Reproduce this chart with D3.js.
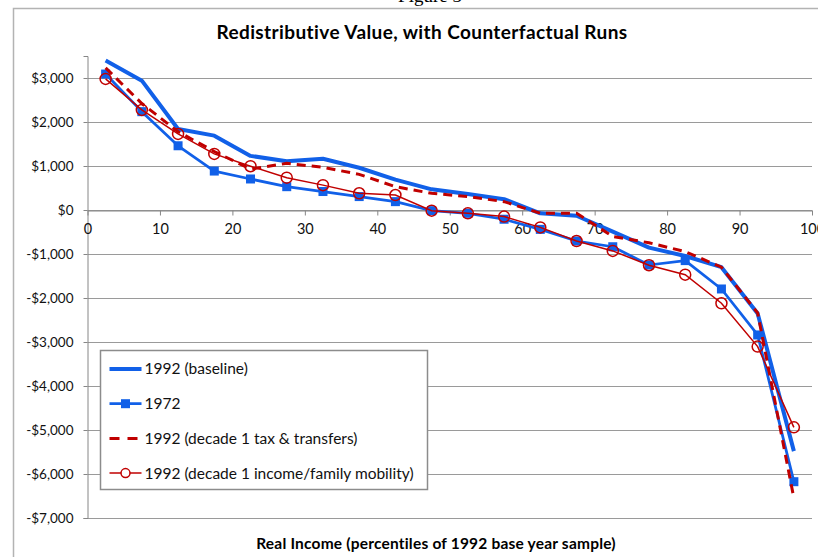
<!DOCTYPE html>
<html>
<head>
<meta charset="utf-8">
<script src="https://cdn.jsdelivr.net/npm/d3@7"></script>
<style>
  html, body { margin: 0; padding: 0; background: #fff; overflow: hidden; }
  svg { display: block; font-family: Lato, "Open Sans", sans-serif; }
</style>
</head>
<body>
<svg id="chart" width="818" height="557"></svg>
<script>
// percentile midpoints
const percentiles = [2.5, 7.5, 12.5, 17.5, 22.5, 27.5, 32.5, 37.5, 42.5, 47.5,
                     52.5, 57.5, 62.5, 67.5, 72.5, 77.5, 82.5, 87.5, 92.5, 97.5];

const baseline1992 = [3400, 2940, 1840, 1690, 1230, 1110, 1165, 960, 690, 470,
                      365, 245, -75, -130, -490, -855, -1045, -1300, -2350, -5480];
const run1972 = [3090, 2235, 1460, 885, 705, 530, 420, 305, 190, -15,
                 -75, -210, -440, -705, -835, -1250, -1150, -1795, -2840, -6175];
const taxTransfers = [3230, 2420, 1780, 1330, 930, 1060, 970, 810, 530, 380,
                      305, 190, -75, -75, -600, -745, -945, -1300, -2340, -6550];
const incomeMobility = [2980, 2275, 1730, 1275, 995, 735, 565, 380, 340, -15,
                        -75, -150, -395, -705, -930, -1255, -1470, -2120, -3105, -4940];

const yTicks = [3000, 2000, 1000, 0, -1000, -2000, -3000, -4000, -5000, -6000, -7000];
const xTicks = [0, 10, 20, 30, 40, 50, 60, 70, 80, 90, 100];

const legendLabels = ["1992 (baseline)", "1972", "1992 (decade 1 tax & transfers)",
                      "1992 (decade 1 income/family mobility)"];

const BLUE = "#1160e8", RED = "#c00000", GRID = "#9a9a9a";

const svg = d3.select("#chart");

// caption above the chart frame (mostly cut off)
svg.append("text")
  .attr("x", 430).attr("y", 2)
  .attr("text-anchor", "middle")
  .attr("font-family", "'Liberation Serif', serif")
  .attr("font-size", 19)
  .text("Figure 3");

// outer chart frame
svg.append("rect")
  .attr("x", 13.5).attr("y", 8.5)
  .attr("width", 830).attr("height", 570)
  .attr("fill", "#fff")
  .attr("stroke", "#b3b3b3").attr("stroke-width", 1.5);

const x = d3.scaleLinear().domain([0, 100]).range([87.5, 812]);
const y = d3.scaleLinear().domain([-7000, 3500]).range([518, 56]);

// gridlines
svg.append("g")
  .selectAll("line")
  .data(yTicks)
  .join("line")
  .attr("x1", x(0)).attr("x2", x(100))
  .attr("y1", d => Math.round(y(d)) + 0.5).attr("y2", d => Math.round(y(d)) + 0.5)
  .attr("stroke", GRID).attr("stroke-width", 1);

// y axis
const fmt = d => (d < 0 ? "-$" : "$") + d3.format(",")(Math.abs(d));
const yAxis = svg.append("g")
  .attr("transform", `translate(${x(0)},0)`)
  .call(d3.axisLeft(y).tickValues(yTicks).tickFormat(fmt).tickSize(4).tickPadding(10));
yAxis.select(".domain").attr("stroke", "#868686");
yAxis.selectAll(".tick line").attr("stroke", "#868686");
yAxis.selectAll("text").attr("font-size", 13.5).attr("fill", "#111")
  .attr("font-family", "Lato, sans-serif");

// x axis on the zero line
const xAxis = svg.append("g")
  .attr("transform", `translate(0,${Math.round(y(0)) + 0.5})`)
  .call(d3.axisBottom(x).tickValues(xTicks).tickSize(5).tickPadding(8).tickSizeOuter(0));
xAxis.select(".domain").attr("stroke", "#868686");
xAxis.selectAll(".tick line").attr("stroke", "#868686");
xAxis.selectAll("text").attr("font-size", 14.5).attr("fill", "#111")
  .attr("font-family", "Lato, sans-serif");

const line = d3.line().x((d, i) => x(percentiles[i])).y(d => y(d));

// series, in Excel drawing order
svg.append("path").datum(baseline1992)
  .attr("d", line).attr("fill", "none")
  .attr("stroke", BLUE).attr("stroke-width", 4).attr("stroke-linejoin", "round");

svg.append("path").datum(run1972)
  .attr("d", line).attr("fill", "none")
  .attr("stroke", BLUE).attr("stroke-width", 2.75).attr("stroke-linejoin", "round");
svg.append("g").selectAll("rect")
  .data(run1972)
  .join("rect")
  .attr("x", (d, i) => x(percentiles[i]) - 4.5)
  .attr("y", d => y(d) - 4.5)
  .attr("width", 9).attr("height", 9)
  .attr("fill", BLUE);

svg.append("path").datum(taxTransfers)
  .attr("d", line).attr("fill", "none")
  .attr("stroke", RED).attr("stroke-width", 3)
  .attr("stroke-dasharray", "9,6");

svg.append("path").datum(incomeMobility)
  .attr("d", line).attr("fill", "none")
  .attr("stroke", RED).attr("stroke-width", 1.5);
svg.append("g").selectAll("circle")
  .data(incomeMobility)
  .join("circle")
  .attr("cx", (d, i) => x(percentiles[i]))
  .attr("cy", d => y(d))
  .attr("r", 5.5)
  .attr("fill", "none")
  .attr("stroke", RED).attr("stroke-width", 1.5);

// title and axis title
svg.append("text")
  .attr("x", 422).attr("y", 38.5)
  .attr("text-anchor", "middle")
  .attr("font-size", 19).attr("font-weight", 700)
  .attr("letter-spacing", 0.4)
  .text("Redistributive Value, with Counterfactual Runs");

svg.append("text")
  .attr("x", 436).attr("y", 548.5)
  .attr("text-anchor", "middle")
  .attr("font-size", 15.5).attr("font-weight", 700)
  .attr("letter-spacing", 0.2)
  .text("Real Income (percentiles of 1992 base year sample)");

// legend
const legend = svg.append("g").attr("transform", "translate(100.5,350.5)");
legend.append("rect")
  .attr("width", 327).attr("height", 139)
  .attr("fill", "#fff")
  .attr("stroke", "#8c8c8c").attr("stroke-width", 1.5);

const legendRows = [
  { stroke: BLUE, width: 4, dash: null, marker: null },
  { stroke: BLUE, width: 2.75, dash: null, marker: "square" },
  { stroke: RED, width: 3, dash: "10,8", marker: null },
  { stroke: RED, width: 1.5, dash: null, marker: "circle" }
];

legendRows.forEach((r, i) => {
  const row = legend.append("g").attr("transform", `translate(0,${18.5 + i * 34.7})`);
  row.append("line")
    .attr("x1", 9).attr("x2", 41)
    .attr("stroke", r.stroke).attr("stroke-width", r.width)
    .attr("stroke-dasharray", r.dash);
  if (r.marker === "square") {
    row.append("rect").attr("x", -4.5 + 25).attr("y", -4.5)
      .attr("width", 9).attr("height", 9).attr("fill", BLUE);
  } else if (r.marker === "circle") {
    row.append("circle").attr("cx", 25).attr("r", 4.5)
      .attr("fill", "#fff").attr("stroke", RED).attr("stroke-width", 1.5);
  }
  row.append("text")
    .attr("x", 44).attr("dy", "0.35em")
    .attr("font-size", 15.5).attr("fill", "#111")
    .text(legendLabels[i]);
});
</script>
</body>
</html>
